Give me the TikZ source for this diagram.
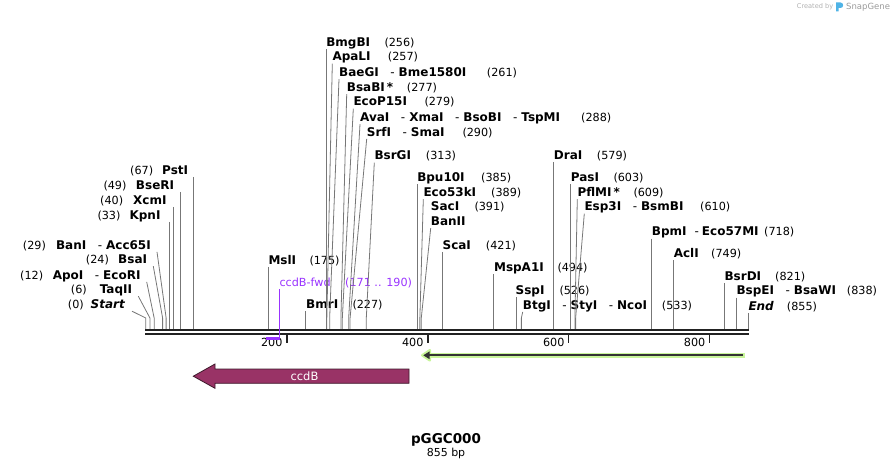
\documentclass[tikz,border=0pt]{standalone}
\usepackage{fontspec}
\setmainfont{DejaVu Sans}
\usepackage{xcolor}
\definecolor{993366}{HTML}{993366}
\definecolor{9933ff}{HTML}{9933FF}
\definecolor{c8f59a}{HTML}{C8F59A}
\definecolor{222222}{HTML}{222222}
\definecolor{333333}{HTML}{333333}
\definecolor{777777}{HTML}{777777}
\definecolor{b0b0b0}{HTML}{B0B0B0}
\definecolor{9a9a9a}{HTML}{9A9A9A}
\definecolor{4fb3e6}{HTML}{4FB3E6}
\definecolor{3d1a2b}{HTML}{3D1A2B}
\usepackage{tikz}

\newcommand{\sepr}{\hspace{11.5pt}{\mdseries -}\hspace{4pt}}

\begin{document}
\begin{tikzpicture}[x=1pt, y=-1pt,
        enz/.style={font=\fontsize{12}{14}\selectfont\bfseries, inner sep=0pt, text height=8.5pt, text depth=2.5pt, anchor=west},
        num/.style={font=\fontsize{11.2}{13}\selectfont, inner sep=0pt, text height=8.5pt, text depth=2.5pt, anchor=west},
        cut/.style={draw=777777, line width=0.8pt},
        tick/.style={draw=222222, line width=1.8pt}]
            \useasboundingbox (0, 0) rectangle (894, 468);

            \coordinate (bb) at (0, 329.3);
            \coordinate (k0) at (145.7, 318);
            \coordinate (k6) at (149.93, 318);
            \coordinate (k12) at (154.16, 318);
            \coordinate (k24) at (162.62, 318);
            \coordinate (k29) at (166.14, 318);
            \coordinate (k33) at (168.96, 318);
            \coordinate (k40) at (173.89, 318);
            \coordinate (k49) at (180.24, 318);
            \coordinate (k67) at (192.92, 318);
            \coordinate (k175) at (268.6, 318);
            \coordinate (k227) at (305.69, 318);
            \coordinate (k256) at (326.13, 318);
            \coordinate (k257) at (326.83, 318);
            \coordinate (k261) at (329.65, 318);
            \coordinate (k277) at (340.93, 318);
            \coordinate (k279) at (342.34, 318);
            \coordinate (k288) at (348.68, 318);
            \coordinate (k290) at (350.09, 318);
            \coordinate (k313) at (366.30, 318);
            \coordinate (k385) at (417.05, 318);
            \coordinate (k389) at (419.87, 318);
            \coordinate (k391) at (421.28, 318);
            \coordinate (k421) at (442.42, 318);
            \coordinate (k494) at (493.87, 318);
            \coordinate (k526) at (516.42, 318);
            \coordinate (k533) at (521.36, 318);
            \coordinate (k579) at (553.78, 318);
            \coordinate (k603) at (570.69, 318);
            \coordinate (k609) at (574.92, 318);
            \coordinate (k610) at (575.63, 318);
            \coordinate (k718) at (651.75, 318);
            \coordinate (k749) at (673.60, 318);
            \coordinate (k821) at (724.35, 318);
            \coordinate (k838) at (736.33, 318);
            \coordinate (k855) at (748.30, 318);

            % left side labels
            \node[enz, anchor=east] (psti) at (188.3, 171.2) {PstI};
            \node[num] (n67) at (130, 171.2) {(67)};
            \node[enz, anchor=east] (bseri) at (174.3, 186.2) {BseRI};
            \node[num] (n49) at (103.3, 186.2) {(49)};
            \node[enz, anchor=east] (xcmi) at (166.7, 201.2) {XcmI};
            \node[num] (n40) at (100, 201.2) {(40)};
            \node[enz, anchor=east] (kpni) at (160.7, 216.2) {KpnI};
            \node[num] (n33) at (97.3, 216.2) {(33)};
            \node[enz, anchor=east] (bani) at (151, 246.2) {BanI\sepr Acc65I};
            \node[num] (n29) at (22.7, 246.2) {(29)};
            \node[enz, anchor=east] (bsai) at (147.3, 260.5) {BsaI};
            \node[num] (n24) at (85.7, 260.5) {(24)};
            \node[enz, anchor=east] (apoi) at (140.7, 276.2) {ApoI\sepr EcoRI};
            \node[num] (n12) at (20, 276.2) {(12)};
            \node[enz, anchor=east] (taqii) at (132.3, 290.5) {TaqII};
            \node[num] (n6) at (70.7, 290.5) {(6)};
            \node[enz, anchor=east] (startlbl) at (125, 305.5) {\itshape Start};
            \node[num] (n0) at (67.7, 305.5) {(0)};

            \node[enz] (msli) at (268.3, 261.2) {MslI};
            \node[num] (n175) at (309.3, 261.2) {(175)};
            \node[num, text=9933ff] (fwd) at (279.3, 283.5) {ccdB-fwd};
            \node[num, text=9933ff] (n171) at (345, 283.5) {(171 .. 190)};
            \node[enz] (bmri) at (306, 305.5) {BmrI};
            \node[num] (n227) at (352.3, 305.5) {(227)};

            % top cluster
            \node[enz] (bmgbi) at (326.1, 43.5) {BmgBI};
            \node[num] (n256) at (384.3, 43.5) {(256)};
            \node[enz] (apali) at (332.3, 57.9) {ApaLI};
            \node[num] (n257) at (387.7, 57.9) {(257)};
            \node[enz] (baegi) at (339, 73.5) {BaeGI\sepr Bme1580I};
            \node[num] (n261) at (486.7, 73.5) {(261)};
            \node[enz] (bsabi) at (346.7, 88.5) {BsaBI\,*};
            \node[num] (n277) at (406.7, 88.5) {(277)};
            \node[enz] (ecop15i) at (353.3, 102.9) {EcoP15I};
            \node[num] (n279) at (424.3, 102.9) {(279)};
            \node[enz] (avai) at (360, 118.5) {AvaI\sepr XmaI\sepr BsoBI\sepr TspMI};
            \node[num] (n288) at (581, 118.5) {(288)};
            \node[enz] (srfi) at (366.7, 133.2) {SrfI\sepr SmaI};
            \node[num] (n290) at (462.3, 133.2) {(290)};
            \node[enz] (bsrgi) at (374.3, 156.9) {BsrGI};
            \node[num] (n313) at (425.7, 156.9) {(313)};

            % middle
            \node[enz] (bpu10i) at (417.05, 178.5) {Bpu10I};
            \node[num] (n385) at (481, 178.5) {(385)};
            \node[enz] (eco53ki) at (423.3, 193.5) {Eco53kI};
            \node[num] (n389) at (491, 193.5) {(389)};
            \node[enz] (saci) at (430.7, 207.9) {SacI};
            \node[num] (n391) at (474.3, 207.9) {(391)};
            \node[enz] (banii) at (430.7, 222.5) {BanII};
            \node[enz] (scai) at (442.42, 246.2) {ScaI};
            \node[num] (n421) at (485.7, 246.2) {(421)};
            \node[enz] (mspa1i) at (493.87, 268.2) {MspA1I};
            \node[num] (n494) at (557.3, 268.2) {(494)};
            \node[enz] (sspi) at (515.5, 291.2) {SspI};
            \node[num] (n526) at (559.3, 291.2) {(526)};
            \node[enz] (btgi) at (522.7, 306.2) {BtgI\sepr StyI\sepr NcoI};
            \node[num] (n533) at (661.7, 306.2) {(533)};

            % right side
            \node[enz] (drai) at (553.78, 156.2) {DraI};
            \node[num] (n579) at (596.7, 156.2) {(579)};
            \node[enz] (pasi) at (570.69, 178.5) {PasI};
            \node[num] (n603) at (613.3, 178.5) {(603)};
            \node[enz] (pflmi) at (577.3, 193.5) {PflMI\,*};
            \node[num] (n609) at (633.3, 193.5) {(609)};
            \node[enz] (esp3i) at (584.3, 207.9) {Esp3I\sepr BsmBI};
            \node[num] (n610) at (700, 207.9) {(610)};
            \node[enz] (bpmi) at (651.75, 232.9) {BpmI\hspace{8pt}{\mdseries -}\hspace{3pt}Eco57MI};
            \node[num] (n718) at (764, 232.9) {(718)};
            \node[enz] (acli) at (673.6, 254.5) {AclI};
            \node[num] (n749) at (711, 254.5) {(749)};
            \node[enz] (bsrdi) at (724.35, 277.2) {BsrDI};
            \node[num] (n821) at (775, 277.2) {(821)};
            \node[enz] (bspei) at (736.33, 291.9) {BspEI\sepr BsaWI};
            \node[num] (n838) at (846.7, 291.9) {(838)};
            \node[enz] (endlbl) at (748.3, 307.2) {\itshape End};
            \node[num] (n855) at (786.7, 307.2) {(855)};

            % cut lines
            \draw[cut] (psti.south -| k67) -- (k67 |- bb);
            \draw[cut] (bseri.south -| k49) -- (k49 |- bb);
            \draw[cut] (xcmi.south -| k40) -- (k40 |- bb);
            \draw[cut] (kpni.south -| k33) -- (k33 |- bb);
            \draw[cut] ([xshift=6pt]bani.south east) -- (k29) -- (k29 |- bb);
            \draw[cut] ([xshift=6pt]bsai.south east) -- (k24) -- (k24 |- bb);
            \draw[cut] ([xshift=6pt]apoi.south east) -- (k12) -- (k12 |- bb);
            \draw[cut] ([xshift=6pt]taqii.south east) -- (k6) -- (k6 |- bb);
            \draw[cut] ([xshift=7pt]startlbl.south east) -- (k0) -- (k0 |- bb);
            \draw[cut] (msli.south -| k175) -- (k175 |- bb);
            \draw[cut] (bmri.south -| k227) -- (k227 |- bb);

            \draw[cut] (bmgbi.south -| k256) -- (k256 |- bb);
            \draw[cut] (apali.south west) -- (k257) -- (k257 |- bb);
            \draw[cut] (baegi.south west) -- (k261) -- (k261 |- bb);
            \draw[cut] (bsabi.south west) -- (k277) -- (k277 |- bb);
            \draw[cut] (ecop15i.south west) -- (k279) -- (k279 |- bb);
            \draw[cut] (avai.south west) -- (k288) -- (k288 |- bb);
            \draw[cut] (srfi.south west) -- (k290) -- (k290 |- bb);
            \draw[cut] (bsrgi.south west) -- (k313) -- (k313 |- bb);

            \draw[cut] (bpu10i.south -| k385) -- (k385 |- bb);
            \draw[cut] (eco53ki.south west) -- (k389) -- (k389 |- bb);
            \draw[cut] (banii.south west) -- (k391) -- (k391 |- bb);
            \draw[cut] (scai.south -| k421) -- (k421 |- bb);
            \draw[cut] (mspa1i.south -| k494) -- (k494 |- bb);
            \draw[cut] (sspi.south -| k526) -- (k526 |- bb);
            \draw[cut] (btgi.south west) -- (k533) -- (k533 |- bb);

            \draw[cut] (drai.south -| k579) -- (k579 |- bb);
            \draw[cut] (pasi.south -| k603) -- (k603 |- bb);
            \draw[cut] (pflmi.south west) -- (k609) -- (k609 |- bb);
            \draw[cut] (esp3i.south west) -- (k610) -- (k610 |- bb);
            \draw[cut] (bpmi.south -| k718) -- (k718 |- bb);
            \draw[cut] (acli.south -| k749) -- (k749 |- bb);
            \draw[cut] (bsrdi.south -| k821) -- (k821 |- bb);
            \draw[cut] (bspei.south -| k838) -- (k838 |- bb);
            \draw[cut] (endlbl.south -| k855) -- (k855 |- bb);

            % backbone + ruler
            \draw[line width=2pt, 222222] (145, 330.3) -- (749, 330.3);
            \draw[line width=2.3pt, 222222] (145, 334.2) -- (749, 334.2);
            \draw[tick] (286.66, 335.3) -- (286.66, 342.5);
            \draw[tick] (427.62, 335.3) -- (427.62, 342.5);
            \draw[tick] (568.58, 335.3) -- (568.58, 342.5);
            \draw[tick] (709.54, 335.3) -- (709.54, 342.5);
            \node[num, anchor=east] (r200) at (282.7, 343.2) {200};
            \node[num, anchor=east] (r400) at (423.6, 343.2) {400};
            \node[num, anchor=east] (r600) at (564.6, 343.2) {600};
            \node[num, anchor=east] (r800) at (705.5, 343.2) {800};

            % ccdB-fwd primer
            \coordinate (p171) at (265.5, 338.6);
            \coordinate (p190) at (279.61, 338.6);
            \draw[9933ff, line width=2.4pt] (p171) -- (p190);
            \draw[9933ff, line width=0.9pt] (fwd.south -| p190) -- (p190);

            % green feature
            \coordinate (g0) at (745, 355.3);
            \coordinate (g1) at (421.5, 355.3);
            \draw[c8f59a, line width=5.2pt] (g0) -- ([xshift=5pt]g1);
            \filldraw[c8f59a, line width=2.6pt, line join=round] ([xshift=0.8pt]g1) -- ++(7.5, -5) -- ++(0, 10) -- cycle;
            \draw[333333, line width=2.2pt] ([xshift=-1.8pt]g0) -- ([xshift=6pt]g1);
            \fill[333333] ([xshift=1.8pt]g1) -- ++(6.2, -3.9) -- ++(0, 7.8) -- cycle;

            % ccdB
            \filldraw[fill=993366, draw=3d1a2b, line width=0.8pt] (409, 369) -- (215, 369) -- (215, 364) -- (193.3, 376.2) -- (215, 388.3) -- (215, 383.3) -- (409, 383.3) -- cycle;
            \node[font=\fontsize{11.5}{13}\selectfont, text=white, inner sep=0pt] (ccdb) at (304.5, 376.2) {ccdB};

            % name
            \node[font=\fontsize{13.5}{16}\selectfont\bfseries, inner sep=0pt, anchor=base] (title) at (446, 443.3) {pGGC000};
            \node[font=\fontsize{11}{13}\selectfont, inner sep=0pt, anchor=base] (bp) at (446, 456.3) {855 bp};

            % logo
            \node[font=\fontsize{6.6}{8}\selectfont, text=b0b0b0, inner sep=0pt, anchor=west] (made) at (796.7, 7) {Created by};
            \fill[4fb3e6] (836, 2.5) -- (840.5, 2.5) .. controls (844, 2.5) and (844, 8) .. (840.5, 8) -- (838.6, 8) -- (838.6, 11.5) -- (836, 11.5) -- cycle;
            \node[font=\fontsize{8.5}{10}\selectfont, text=9a9a9a, inner sep=0pt, anchor=west] (snap) at (846, 7) {SnapGene};
        \end{tikzpicture}
\end{document}
